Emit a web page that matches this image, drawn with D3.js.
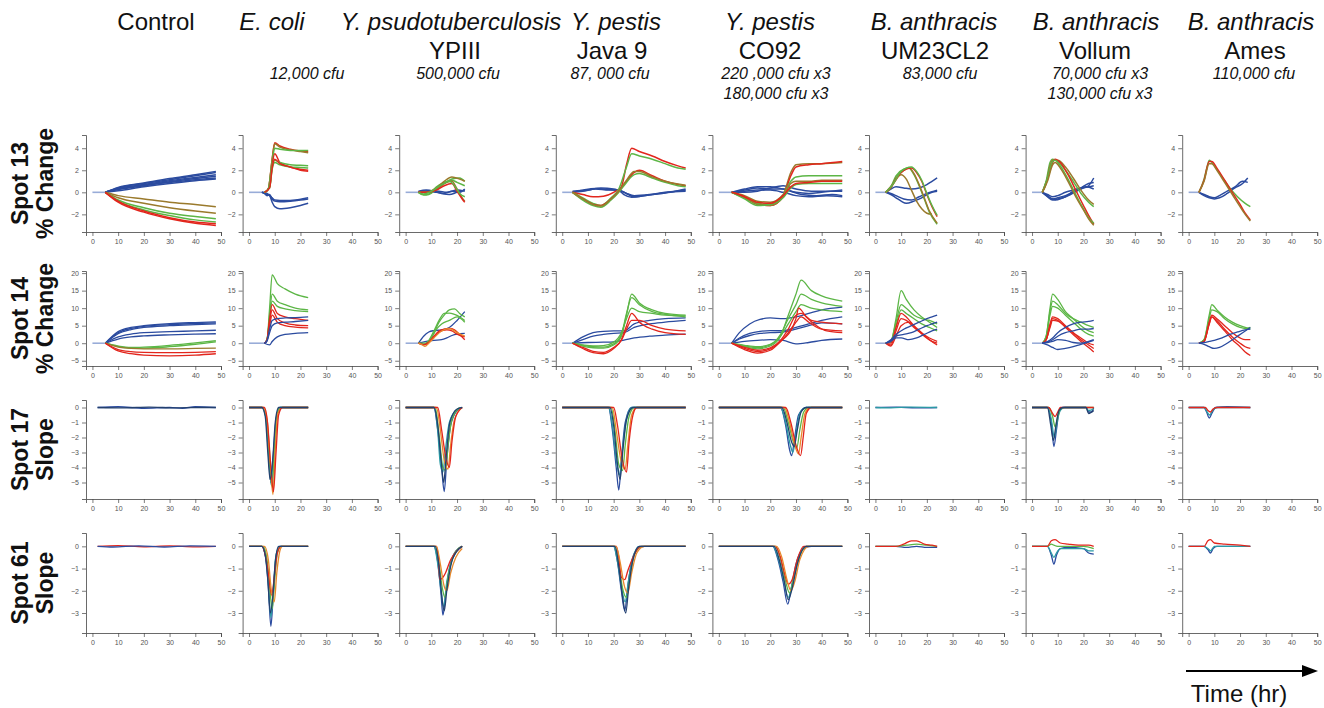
<!DOCTYPE html>
<html>
<head>
<meta charset="utf-8">
<script src="https://cdn.jsdelivr.net/npm/d3@7"></script>
<style>
    body { margin: 0; background: #fff; }
    svg text { font-family: "Liberation Sans", Arial, sans-serif; fill: #111; }
</style>
</head>
<body>
<svg id="chart" width="1324" height="708"></svg>
<script>

//  ---- text of the figure
const strains = ["Control", "E. coli", "Y. psudotuberculosis", "Y. pestis", "Y. pestis", "B. anthracis", "B. anthracis", "B. anthracis"];
const strainItalic = [false, true, true, true, true, true, true, true];
const subStrains = ["", "", "YPIII", "Java 9", "CO92", "UM23CL2", "Vollum", "Ames"];
const doses = ["", "12,000 cfu", "500,000 cfu", "87, 000 cfu", "220 ,000 cfu x3", "83,000 cfu", "70,000 cfu x3", "110,000 cfu"];
const doses2 = ["", "", "", "", "180,000 cfu x3", "", "130,000 cfu x3", ""];
const rowNames = [["Spot 13", "% Change"], ["Spot 14", "% Change"], ["Spot 17", "Slope"], ["Spot 61", "Slope"]];
const xTickValues = [0, 10, 20, 30, 40, 50];
const yTickValues = [[4, 2, 0, -2], [20, 15, 10, 5, 0, -5], [0, -1, -2, -3, -4, -5], [0, -1, -2, -3]];

//  ---- curves: [colour key, [t, v, t, v, ...]]   (t in hours)

//  Spot 13, % change
const s13Control = [
    ['l', [0, 0, 5, 0]],
    ['b', [5, 0, 10, .25, 20, .6, 30, .95, 40, 1.25, 48, 1.45]],
    ['b', [5, 0, 10, .4, 20, .8, 30, 1.15, 40, 1.5, 48, 1.8]],
    ['b', [5, 0, 10, .15, 20, .5, 30, .8, 40, 1.05, 48, 1.2]],
    ['b', [5, 0, 10, .35, 20, .7, 30, 1.05, 40, 1.35, 48, 1.6]],
    ['b', [5, 0, 10, .3, 20, .65, 30, .9, 40, 1.15, 48, 1.3]],
    ['b', [5, 0, 10, .45, 20, .85, 30, 1.25, 40, 1.6, 48, 1.9]],
    ['o', [5, 0, 10, -.3, 20, -.6, 30, -.9, 40, -1.1, 48, -1.3]],
    ['o', [5, 0, 10, -.5, 20, -1.0, 30, -1.4, 40, -1.7, 48, -1.9]],
    ['g', [5, 0, 10, -.7, 20, -1.4, 30, -1.9, 40, -2.2, 48, -2.4]],
    ['g', [5, 0, 10, -.8, 20, -1.6, 30, -2.1, 40, -2.5, 48, -2.7]],
    ['r', [5, 0, 10, -.9, 20, -1.8, 30, -2.4, 40, -2.8, 48, -3.0]],
    ['r', [5, 0, 10, -.8, 20, -1.7, 30, -2.3, 40, -2.7, 48, -2.85]]
];
const s13Ecoli = [
    ['l', [0, 0, 6, 0]],
    ['b', [5, 0, 6, -.1, 7, -.3, 8, -.2, 9, -.6, 10, -.8, 12, -.85, 16, -.8, 20, -.7, 23, -.6]],
    ['b', [5, 0, 7, -.2, 8, -.3, 9, -.9, 10, -1.3, 12, -1.5, 16, -1.4, 20, -1.2, 23, -1.0]],
    ['b', [5, 0, 7, -.1, 9, -.5, 10, -.7, 14, -.75, 18, -.7, 23, -.5]],
    ['r', [6, 0, 7.5, .3, 9, 3.0, 10, 4.5, 12, 4.2, 16, 3.9, 20, 3.75, 23, 3.7]],
    ['o', [6, 0, 7.5, .3, 9, 3.0, 10, 4.4, 12, 4.1, 16, 3.85, 20, 3.7, 23, 3.6]],
    ['g', [6, 0, 7.5, .3, 9, 2.8, 10, 4.0, 12, 3.9, 16, 3.8, 20, 3.8, 23, 3.8]],
    ['r', [6, 0, 8, .5, 9, 2.5, 10, 3.5, 12, 2.7, 16, 2.3, 20, 2.1, 23, 2.0]],
    ['g', [6, 0, 8, .5, 9, 2.3, 10, 2.9, 12, 2.7, 16, 2.5, 20, 2.45, 23, 2.4]],
    ['g', [6, 0, 8, .4, 9, 2.1, 10, 2.7, 12, 2.5, 16, 2.3, 20, 2.25, 23, 2.2]],
    ['r', [6, 0, 8, .4, 9, 2.2, 10, 3.0, 12, 2.6, 16, 2.3, 20, 2.0, 23, 1.9]]
];
const s13Ypseudo = [
    ['l', [0, 0, 5, 0]],
    ['b', [5, 0, 8, .1, 12, 0, 15, -.1, 18, .1, 21, 0, 23, .3]],
    ['b', [5, .1, 8, .2, 11, .1, 14, -.1, 17, -.2, 20, 0, 23, .2]],
    ['b', [5, 0, 9, .15, 13, .1, 16, 0, 20, .2, 23, .1]],
    ['g', [5, 0, 7, -.2, 9, -.15, 12, .5, 15, .9, 18, 1.1, 20, .9, 23, .6]],
    ['g', [5, 0, 7, -.25, 9, -.2, 12, .3, 15, .8, 18, 1.2, 21, 1.3, 23, 1.0]],
    ['o', [5, 0, 8, 0, 12, .4, 15, 1.0, 18, 1.4, 21, 1.2, 23, 1.0]],
    ['o', [5, 0, 8, 0, 12, .3, 15, .8, 18, 1.0, 20, .3, 22, -.5, 23, -.8]],
    ['r', [5, 0, 8, 0, 12, .2, 15, .6, 18, .8, 20, .1, 22, -.6, 23, -.9]],
    ['g', [5, 0, 7, -.15, 10, .1, 14, .7, 17, 1.0, 19, .6, 21, -.1, 23, -.4]]
];
const s13Java = [
    ['l', [0, 0, 4, 0]],
    ['b', [4, 0, 8, .2, 13, .35, 18, .25, 22, .15, 24, -.2, 27, -.45, 32, -.3, 38, -.1, 44, .1, 48, .2]],
    ['b', [4, 0, 8, .1, 13, .3, 18, .2, 22, .2, 25, -.1, 28, -.3, 34, -.2, 40, 0, 48, .1]],
    ['b', [4, .1, 10, .2, 15, .4, 20, .3, 24, 0, 28, -.4, 35, -.2, 42, 0, 48, .3]],
    ['r', [4, 0, 8, -.2, 12, -.4, 16, -.35, 20, 0, 23, .5, 25, 2.5, 27, 4.0, 30, 3.7, 35, 3.3, 40, 2.8, 45, 2.4, 48, 2.2]],
    ['g', [4, 0, 8, -.5, 12, -1.0, 15, -1.2, 19, -.5, 22, .3, 25, 2.3, 27, 3.5, 30, 3.3, 35, 3.0, 40, 2.6, 45, 2.2, 48, 2.1]],
    ['r', [4, 0, 8, -.6, 12, -1.1, 15, -1.2, 19, -.6, 22, .1, 25, 1.0, 28, 1.8, 30, 2.0, 35, 1.5, 40, 1.0, 45, .7, 48, .6]],
    ['g', [4, 0, 8, -.7, 12, -1.2, 15, -1.35, 19, -.7, 22, 0, 25, .9, 28, 1.6, 30, 1.7, 35, 1.3, 40, .9, 45, .6, 48, .5]],
    ['o', [4, 0, 8, -.6, 12, -1.1, 15, -1.25, 19, -.6, 22, .1, 25, 1.1, 28, 1.9, 30, 1.9, 35, 1.4, 40, 1.0, 45, .75, 48, .65]]
];
const s13CO92 = [
    ['l', [0, 0, 5, 0]],
    ['b', [5, 0, 10, .2, 15, .4, 20, .3, 25, .3, 28, .1, 32, -.2, 38, -.3, 44, -.2, 48, -.3]],
    ['b', [5, 0, 10, .3, 15, .5, 20, .5, 25, .3, 30, 0, 35, -.1, 40, 0, 48, .2]],
    ['b', [5, 0, 10, .1, 15, .2, 20, .2, 25, 0, 30, -.3, 35, -.4, 42, -.3, 48, -.4]],
    ['b', [5, 0, 10, 0, 15, .1, 20, .4, 25, .6, 30, .3, 36, .1, 42, .1, 48, .1]],
    ['o', [5, 0, 10, -.3, 15, -.8, 20, -.9, 25, -.2, 28, 1.8, 30, 2.5, 35, 2.6, 40, 2.6, 48, 2.7]],
    ['r', [5, 0, 10, -.4, 15, -1.0, 20, -1.2, 25, -.4, 28, 1.5, 30, 2.3, 35, 2.5, 40, 2.6, 48, 2.8]],
    ['g', [5, 0, 10, -.5, 15, -1.0, 20, -1.1, 25, -.3, 28, 1.0, 30, 1.4, 35, 1.5, 40, 1.5, 48, 1.5]],
    ['o', [5, 0, 10, -.5, 15, -1.1, 20, -1.2, 25, -.4, 28, .8, 30, 1.0, 35, 1.0, 40, 1.1, 48, 1.1]],
    ['g', [5, 0, 10, -.6, 15, -1.2, 20, -1.1, 25, -.5, 28, .4, 30, .7, 35, .8, 40, .8, 48, .8]],
    ['r', [5, 0, 10, -.4, 15, -.9, 20, -1.0, 25, -.3, 28, .5, 30, .8, 35, .9, 40, 1.0, 48, 1.0]]
];
const s13UM23 = [
    ['l', [0, 0, 4, 0]],
    ['b', [4, 0, 6, .3, 8, .5, 11, .4, 14, .3, 17, .4, 20, .7, 22, 1.0, 24, 1.3]],
    ['b', [4, 0, 6, -.2, 8, -.5, 10, -.8, 12, -1.0, 15, -.8, 18, -.5, 20, -.2, 22, 0, 24, .1]],
    ['b', [4, 0, 6, -.1, 8, -.3, 11, -.6, 14, -.7, 17, -.4, 20, -.1, 24, .2]],
    ['o', [4, 0, 6, .4, 8, 1.2, 10, 1.6, 12, 1.2, 14, .2, 16, -.8, 18, -1.5, 20, -1.9, 22, -2.0]],
    ['g', [4, 0, 6, .5, 8, 1.5, 11, 2.1, 13, 2.2, 15, 1.6, 17, .6, 19, -.6, 21, -1.8, 24, -2.9]],
    ['o', [4, 0, 6, .4, 8, 1.3, 11, 2.0, 13, 2.2, 15, 1.7, 17, .7, 19, -.5, 21, -1.7, 24, -2.8]],
    ['r', [4, 0, 7, .8, 10, 1.8, 12, 2.1, 14, 2.2, 16, 1.8, 18, 1.0, 20, -.2, 22, -1.3, 24, -2.2]],
    ['g', [4, 0, 7, .8, 10, 1.9, 12, 2.2, 14, 2.3, 16, 1.9, 18, 1.1, 20, -.1, 22, -1.2, 24, -2.1]]
];
const s13Vollum = [
    ['l', [0, 0, 4, 0]],
    ['b', [4, 0, 6, -.3, 8, -.6, 10, -.5, 13, -.3, 16, 0, 19, .3, 22, .6, 24, 1.3]],
    ['b', [4, 0, 6, -.4, 8, -.7, 10, -.6, 13, -.4, 16, .1, 19, .4, 22, .8, 24, .9]],
    ['b', [4, 0, 6, -.2, 8, -.4, 10, -.3, 13, 0, 16, .2, 19, .4, 22, .5, 24, .6]],
    ['b', [4, 0, 7, -.5, 9, -.7, 12, -.5, 15, -.2, 18, .2, 21, .5, 24, .3]],
    ['g', [4, 0, 5.5, 1.0, 7, 2.7, 8, 3.0, 10, 2.8, 13, 2.0, 16, 1.0, 19, -.1, 22, -.9, 24, -1.3]],
    ['o', [4, 0, 5.5, .8, 7, 2.4, 8, 2.9, 10, 2.9, 13, 2.3, 16, 1.3, 19, .2, 22, -.7, 24, -1.1]],
    ['r', [4, 0, 6, 1.2, 8, 2.7, 9, 3.0, 11, 2.7, 14, 1.6, 17, .2, 20, -1.2, 22, -2.1, 24, -2.9]],
    ['g', [4, 0, 6, 1.3, 8, 2.8, 9, 2.9, 11, 2.4, 14, 1.2, 17, -.2, 20, -1.5, 22, -2.3, 24, -2.8]],
    ['o', [4, 0, 6, 1.0, 8, 2.5, 9, 2.7, 11, 2.2, 14, 1.0, 17, -.4, 20, -1.6, 22, -2.4, 24, -3.0]]
];
const s13Ames = [
    ['l', [0, 0, 4, 0]],
    ['b', [4, 0, 6, -.3, 8, -.5, 10, -.6, 12, -.5, 15, -.1, 18, .4, 21, .8, 23, 1.3]],
    ['b', [4, 0, 6, -.2, 8, -.4, 10, -.5, 12, -.3, 15, .1, 18, .5, 21, 1.0, 23, .9]],
    ['g', [4, 0, 6, 1.2, 7.5, 2.6, 8, 2.9, 10, 2.4, 13, 1.4, 16, .4, 19, -.4, 22, -1.0, 24, -1.3]],
    ['r', [4, 0, 6, 1.1, 8, 2.8, 9, 2.8, 11, 2.2, 14, 1.1, 17, 0, 20, -1.1, 22, -1.9, 24, -2.5]],
    ['o', [4, 0, 6, 1.0, 8, 2.6, 9, 2.6, 11, 2.0, 14, .9, 17, -.2, 20, -1.3, 22, -2.0, 24, -2.6]]
];

//  Spot 14, % change
const s14Control = [
    ['l', [0, 0, 5, 0]],
    ['b', [5, 0, 10, 3.0, 15, 4.2, 20, 4.8, 30, 5.3, 40, 5.6, 48, 5.8]],
    ['b', [5, 0, 10, 3.3, 15, 4.5, 20, 5.0, 30, 5.6, 40, 5.9, 48, 6.1]],
    ['b', [5, 0, 10, 2.7, 15, 3.9, 20, 4.5, 30, 5.0, 40, 5.3, 48, 5.5]],
    ['b', [5, 0, 10, 1.8, 15, 2.6, 20, 3.0, 30, 3.3, 40, 3.5, 48, 3.7]],
    ['b', [5, 0, 10, 1.2, 15, 1.8, 20, 2.1, 30, 2.4, 40, 2.6, 48, 2.7]],
    ['g', [5, 0, 10, -.9, 15, -1.4, 20, -1.4, 30, -1.0, 40, -.3, 48, .4]],
    ['g', [5, 0, 10, -.8, 15, -1.2, 20, -1.1, 30, -.6, 40, .1, 48, .7]],
    ['o', [5, 0, 10, -1.1, 15, -1.5, 20, -1.6, 30, -1.6, 40, -1.5, 48, -1.4]],
    ['r', [5, 0, 10, -2.2, 15, -3.0, 20, -3.4, 30, -3.6, 40, -3.4, 48, -3.0]],
    ['r', [5, 0, 10, -1.8, 15, -2.4, 20, -2.6, 30, -2.7, 40, -2.6, 48, -2.4]]
];
const s14Ecoli = [
    ['l', [0, 0, 6, 0]],
    ['g', [6, 0, 7, 1, 8, 10, 9, 19.5, 11, 17, 14, 15.5, 18, 14, 23, 13]],
    ['g', [6, 0, 7, 1, 8, 8, 9, 14, 11, 12, 14, 11, 18, 10, 23, 9.5]],
    ['g', [6, 0, 7, 1, 8, 7, 9, 12, 11, 10.5, 14, 9.8, 18, 9.3, 23, 9]],
    ['r', [6, 0, 7, 1, 8, 7, 9, 11, 11, 8.5, 14, 7.5, 18, 7, 23, 6.5]],
    ['r', [6, 0, 7, 1, 8, 6, 9, 9.5, 11, 7, 14, 5.8, 18, 5.2, 23, 5]],
    ['r', [6, 0, 7, .8, 8, 5, 9, 8, 11, 6, 14, 5, 18, 4.6, 23, 4.4]],
    ['b', [6, 0, 7, .8, 8, 4, 9, 6.5, 11, 7, 14, 7.2, 18, 7.3, 23, 7.5]],
    ['b', [6, 0, 7, .6, 8, 3, 9, 5, 11, 5.8, 14, 6, 18, 6.2, 23, 6.5]],
    ['b', [6, 0, 8, -.5, 9, .5, 11, 1.8, 14, 2.5, 18, 2.8, 23, 3.0]]
];
const s14Ypseudo = [
    ['l', [0, 0, 5, 0]],
    ['b', [5, 0, 7, 2, 9, 3.2, 11, 3.6, 14, 3.8, 17, 4.5, 20, 6.5, 23, 9]],
    ['b', [5, 0, 8, .5, 11, .8, 14, 1.0, 16, 1.5, 18, 2.2, 20, 2.6, 23, 2.8]],
    ['g', [5, 0, 7, -.4, 9, .5, 11, 3, 13, 6, 15, 8, 17, 9.5, 19, 9.8, 21, 8.5, 23, 7.5]],
    ['g', [5, 0, 7, -.3, 9, .8, 11, 3.5, 13, 6.5, 15, 8.5, 17, 8.6, 19, 8.2, 21, 7.5, 23, 6.5]],
    ['g', [5, 0, 8, 0, 10, 1.5, 12, 4, 14, 5.5, 17, 6.5, 20, 7.5, 23, 6]],
    ['r', [5, 0, 7, -.5, 9, .2, 11, 2, 13, 3.5, 15, 4.0, 17, 4.2, 19, 3.8, 21, 2.5, 23, 1.0]],
    ['r', [5, 0, 7, -.4, 9, .3, 11, 1.8, 13, 3.2, 16, 3.8, 18, 3.5, 20, 2.6, 23, 1.8]],
    ['y', [5, 0, 6.5, -.5, 7.5, -.9, 9, 0, 11, 1.5, 14, 3.5, 17, 4.2, 20, 3, 23, 2]]
];
const s14Java = [
    ['l', [0, 0, 4, 0]],
    ['b', [4, 0, 8, 1.8, 12, 3.0, 16, 3.4, 20, 3.5, 24, 3.5, 28, 5.5, 34, 6.5, 40, 7.0, 48, 7.2]],
    ['b', [4, 0, 10, .2, 16, .3, 20, .4, 24, .9, 28, 1.5, 34, 2.0, 40, 2.3, 48, 2.6]],
    ['b', [4, 0, 8, 1.0, 12, 2.0, 16, 2.5, 20, 2.8, 24, 3.0, 28, 4.5, 34, 5.5, 40, 6.0, 48, 6.5]],
    ['g', [4, 0, 8, -.8, 12, -1.3, 16, -1.4, 20, -.5, 23, 2.0, 25, 8, 27, 14, 30, 11.5, 35, 9.5, 40, 8.5, 48, 8]],
    ['g', [4, 0, 8, -.6, 12, -1.0, 16, -1.1, 20, -.2, 23, 2.5, 25, 8.5, 27, 13, 30, 11, 35, 9, 40, 8.2, 48, 7.5]],
    ['g', [4, 0, 8, -.5, 12, -.8, 16, -.7, 20, .3, 23, 3.0, 25, 7, 27, 10, 30, 9, 35, 8.5, 40, 8, 48, 7.8]],
    ['r', [4, 0, 8, -1.5, 12, -2.7, 16, -3.0, 20, -1.5, 23, 1.0, 25, 5, 27, 8.5, 30, 6, 35, 4, 40, 3, 48, 2.5]],
    ['r', [4, 0, 8, -1.2, 12, -2.3, 16, -2.6, 20, -1.2, 23, .8, 25, 4, 27, 6.5, 30, 6.5, 35, 5, 40, 4, 48, 3.5]]
];
const s14CO92 = [
    ['l', [0, 0, 5, 0]],
    ['b', [5, 0, 8, 3, 12, 5.5, 16, 6.8, 20, 7.2, 25, 7.0, 30, 7.5, 35, 8.5, 40, 9.5, 48, 10.3]],
    ['b', [5, 0, 8, 1.5, 12, 2.8, 16, 3.4, 20, 3.6, 25, 3.6, 30, 4.5, 35, 5.5, 40, 6.5, 48, 7.5]],
    ['b', [5, 0, 8, 1.2, 12, 2.2, 16, 2.8, 20, 3.0, 25, 3.2, 30, 4.0, 35, 5.0, 40, 5.8, 48, 5.5]],
    ['b', [5, 0, 10, .5, 15, .8, 20, 1.0, 25, .8, 30, -.2, 35, .2, 40, .8, 48, 1.2]],
    ['g', [5, 0, 10, -1.0, 15, -1.6, 20, -.8, 24, 2, 27, 8, 30, 14, 32, 18, 36, 15, 40, 13.5, 48, 12]],
    ['g', [5, 0, 10, -.8, 15, -1.3, 20, -.5, 24, 2.5, 27, 7, 30, 11, 32, 14, 36, 12.5, 40, 11.5, 48, 10.5]],
    ['g', [5, 0, 10, -.6, 15, -1.0, 20, -.3, 24, 2, 27, 5.5, 30, 9, 32, 11, 36, 10, 40, 9.5, 48, 9]],
    ['r', [5, 0, 10, -1.8, 15, -2.8, 20, -2.0, 24, .5, 27, 3, 30, 7, 31, 10, 34, 7.5, 38, 5, 42, 3.5, 48, 3]],
    ['r', [5, 0, 10, -1.5, 15, -2.4, 20, -1.6, 24, .5, 27, 2.5, 30, 6, 32, 7.5, 35, 6, 40, 4, 48, 3.5]],
    ['r', [5, 0, 10, -1.2, 15, -2.0, 20, -1.3, 24, .8, 27, 4, 30, 8, 32, 8.5, 36, 6.5, 40, 6, 48, 5.5]]
];
const s14UM23 = [
    ['l', [0, 0, 4, 0]],
    ['g', [4, 0, 6, .5, 8, 7, 10, 15, 12, 12.5, 15, 9.5, 18, 7.5, 21, 6, 24, 4.5]],
    ['g', [4, 0, 6, .5, 8, 6, 10, 11, 12, 10, 15, 8, 18, 7, 21, 6.5, 24, 5.5]],
    ['g', [4, 0, 6, .3, 8, 5, 10, 9.5, 12, 8.5, 15, 7, 18, 5.5, 21, 4.5, 24, 3.5]],
    ['r', [4, 0, 6, 0, 8, 4.5, 10, 8.5, 12, 7.5, 15, 5, 18, 3, 21, 1, 24, -.5]],
    ['r', [4, 0, 6, -.5, 8, 3.5, 10, 7, 12, 6.5, 15, 4.5, 18, 2.8, 21, 1.5, 24, .5]],
    ['r', [4, 0, 6, -.8, 8, 2, 10, 5, 13, 6, 16, 4, 19, 2, 22, .5, 24, 0]],
    ['b', [4, 0, 6, 1, 8, 2.5, 11, 4, 14, 5, 17, 6, 20, 7, 22, 7.5, 24, 8]],
    ['b', [4, 0, 6, .8, 8, 2, 11, 2.5, 14, 3, 17, 4, 20, 5, 22, 5.5, 24, 6]],
    ['b', [4, 0, 6, .5, 8, 1.5, 10, 1.5, 13, 1.0, 16, 1.5, 19, 2.5, 22, 3.5, 24, 4]]
];
const s14Vollum = [
    ['l', [0, 0, 4, 0]],
    ['g', [4, 0, 5.5, 2, 7, 10, 8, 14, 10, 12.5, 13, 9, 16, 7, 19, 5, 22, 3.5, 24, 3]],
    ['g', [4, 0, 5.5, 2, 7, 9, 8, 12, 10, 11, 13, 8.5, 16, 7, 19, 6, 22, 5, 24, 4.5]],
    ['g', [4, 0, 5.5, 1.5, 7, 8, 8, 10.5, 10, 10, 13, 8, 16, 6, 19, 4, 22, 2.5, 24, 2]],
    ['r', [4, 0, 5.5, 1, 7, 5.5, 8, 7.5, 10, 7, 13, 5, 16, 3, 19, 1, 22, -.5, 24, -1.5]],
    ['r', [4, 0, 5.5, 1, 7, 5, 8, 7, 10, 6.5, 13, 4.5, 16, 2.5, 19, .5, 22, -1.2, 24, -2.5]],
    ['r', [4, 0, 5.5, 1, 7, 4.5, 8, 6.5, 10, 6.3, 13, 4.8, 16, 3, 19, 1.5, 22, 0, 24, -.5]],
    ['b', [4, 0, 6, .5, 8, 1.5, 10, 3, 13, 4.5, 16, 5.5, 19, 6, 22, 6.2, 24, 6.5]],
    ['b', [4, 0, 6, .3, 8, 1, 10, 2, 13, 3, 16, 3.5, 19, 4, 22, 4, 24, 4.2]],
    ['b', [4, 0, 6, .2, 8, .5, 10, 1.0, 13, .8, 16, .2, 19, 0, 22, .5, 24, 1.0]],
    ['b', [4, 0, 6, -.5, 8, -1.2, 10, -1.8, 13, -1.5, 16, -1.0, 19, -.3, 22, .3, 24, .8]]
];
const s14Ames = [
    ['l', [0, 0, 4, 0]],
    ['g', [4, 0, 6, 1, 8, 8, 9, 11, 11, 9.5, 14, 7.5, 17, 6, 20, 5, 22, 4.5, 24, 4]],
    ['g', [4, 0, 6, 1, 8, 7, 9, 9.5, 11, 9, 14, 7, 17, 5.5, 20, 4.5, 22, 4.2, 24, 4.5]],
    ['r', [4, 0, 6, .5, 8, 6, 9, 8, 11, 7, 14, 5, 17, 3, 20, 1.5, 22, 1.0, 24, 1.0]],
    ['r', [4, 0, 6, .5, 8, 5.5, 9, 7.5, 11, 6.5, 14, 4, 17, 1.8, 20, 0, 22, -1.0, 24, -1.5]],
    ['r', [4, 0, 6, .5, 8, 5.5, 9, 7.5, 11, 6, 14, 3.5, 17, 1, 20, -1, 22, -2.5, 24, -3.5]],
    ['b', [4, 0, 6, -.3, 8, -1, 10, -1.5, 12, -1.2, 15, 0, 18, 1.5, 21, 3, 24, 4.5]],
    ['b', [4, 0, 6, .2, 8, .5, 10, .8, 13, 1.5, 16, 2.5, 19, 3.2, 22, 3.8, 24, 4]]
];

//  Spot 17, slope
const s17Control = [
    ['b', [2, 0, 10, .05, 20, -.05, 30, 0, 35, -.05, 40, .05, 48, 0]],
    ['n', [2, 0, 12, -.03, 22, .03, 32, -.03, 42, 0, 48, 0]]
];
const s17Ecoli = [
    ['b', [0, 0, 5, 0, 6.5, -.5, 7.5, -2.5, 8.5, -5.0, 9.5, -3, 10.5, -.8, 12, 0, 23, 0]],
    ['t', [0, 0, 5, 0, 6.5, -.6, 7.5, -3, 8.7, -5.2, 9.7, -3, 10.7, -.6, 12, 0, 23, 0]],
    ['g', [0, 0, 5.5, 0, 7, -1, 8, -3.5, 9, -5.3, 10, -2.5, 11, -.4, 12.5, 0, 23, 0]],
    ['y', [0, 0, 5.5, 0, 7, -.8, 8.2, -3.5, 9.3, -5.8, 10.2, -2.8, 11.2, -.4, 13, 0, 23, 0]],
    ['r', [0, 0, 6, 0, 7.2, -1, 8.5, -4, 9.5, -5.6, 10.5, -3, 11.5, -.5, 13, 0, 23, 0]],
    ['n', [0, 0, 5, 0, 6.3, -.6, 7.3, -3, 8.2, -4.8, 9.2, -3.5, 10.2, -1, 11.5, 0, 23, 0]]
];
const s17Ypseudo = [
    ['b', [0, 0, 11, 0, 12.5, -1.5, 14, -4, 15, -5.6, 16, -3.5, 17.5, -1.2, 20, -.2, 22, 0]],
    ['t', [0, 0, 11, 0, 12.5, -1.6, 13.5, -3.8, 14.5, -4.3, 15.5, -2.8, 17, -1, 19.5, -.2, 22, 0]],
    ['g', [0, 0, 11.5, 0, 13, -1.8, 14.5, -4.0, 15.5, -4.2, 16.5, -2.5, 18, -.8, 21, 0]],
    ['y', [0, 0, 12, 0, 13.5, -1.5, 15, -3.5, 16.5, -4.1, 17.5, -2.5, 19, -.8, 22, 0]],
    ['r', [0, 0, 12.5, 0, 14, -1.5, 15.5, -3.2, 17, -4.0, 18, -2.3, 19.5, -.6, 22, 0]],
    ['n', [0, 0, 11, 0, 12.5, -1.2, 13.8, -3.5, 14.8, -5.0, 15.8, -3.2, 17.2, -1, 20, -.1, 22, 0]]
];
const s17Java = [
    ['b', [0, 0, 18, 0, 19.5, -1.5, 21, -4, 22, -5.5, 23, -3.5, 24.5, -1, 27, 0, 48, 0]],
    ['t', [0, 0, 18, 0, 19.5, -1.2, 21, -3.5, 22.3, -4.5, 23.3, -3, 25, -.8, 27, 0, 48, 0]],
    ['g', [0, 0, 19, 0, 20.5, -1.5, 22, -3.8, 23.5, -4.2, 24.5, -2.5, 26, -.6, 28, 0, 48, 0]],
    ['y', [0, 0, 19.5, 0, 21, -1.5, 22.8, -3.5, 24.5, -4.1, 25.5, -2.5, 27, -.5, 29, 0, 48, 0]],
    ['r', [0, 0, 20, 0, 21.5, -1.2, 23.2, -3.3, 25, -4.3, 26, -2.3, 27.5, -.5, 29, 0, 48, 0]],
    ['n', [0, 0, 18.5, 0, 20, -1.2, 21.5, -3.8, 22.5, -4.8, 23.5, -3, 25, -.8, 27.5, 0, 48, 0]]
];
const s17CO92 = [
    ['b', [0, 0, 24, 0, 26, -1.2, 27.5, -2.8, 28.3, -3.2, 29.5, -2, 31, -.5, 34, 0, 48, 0]],
    ['t', [0, 0, 24, 0, 26, -1.0, 27.8, -2.5, 28.8, -3.0, 30, -1.8, 31.5, -.4, 34, 0, 48, 0]],
    ['g', [0, 0, 25, 0, 27, -1.0, 29, -2.3, 30.3, -2.7, 31.5, -1.5, 33, -.3, 35, 0, 48, 0]],
    ['y', [0, 0, 25.5, 0, 27.5, -1.0, 29.5, -2.5, 31, -3.1, 32, -2, 33.5, -.4, 35.5, 0, 48, 0]],
    ['r', [0, 0, 26, 0, 28, -1.0, 30, -2.5, 31.8, -3.2, 32.8, -2, 34, -.4, 36, 0, 48, 0]],
    ['n', [0, 0, 24.5, 0, 26.5, -1.0, 28.3, -2.3, 29.3, -2.6, 30.5, -1.5, 32, -.3, 34, 0, 48, 0]]
];
const s17UM23 = [
    ['b', [0, 0, 8, .03, 16, -.03, 24, 0]],
    ['t', [0, 0, 6, -.02, 14, .03, 24, 0]]
];
const s17Vollum = [
    ['b', [0, 0, 6, 0, 7.5, -1, 8.5, -2.6, 9.5, -1.5, 10.5, -.3, 12, 0, 21, 0, 22, -.3, 23, -.3, 24, 0]],
    ['t', [0, 0, 6, 0, 7.5, -.8, 8.7, -2.0, 9.7, -1.0, 11, -.2, 12.5, 0, 21, 0, 22, -.2, 24, -.1]],
    ['g', [0, 0, 6.5, 0, 8, -.6, 9, -1.3, 10, -.6, 11, -.1, 13, 0, 24, 0]],
    ['r', [0, 0, 6.5, 0, 8, -.4, 9, -.6, 10, -.3, 11, 0, 24, 0]],
    ['n', [0, 0, 6, 0, 7.3, -1.2, 8.3, -2.2, 9.3, -1.2, 10.5, -.2, 12, 0, 21, 0, 22, -.4, 24, -.2]]
];
const s17Ames = [
    ['b', [0, 0, 6, 0, 7, -.3, 8, -.7, 9, -.4, 10.5, 0, 15, .05, 24, 0]],
    ['t', [0, 0, 6, 0, 7.2, -.3, 8.2, -.5, 9.3, -.2, 11, 0, 24, 0]],
    ['r', [0, 0, 6.5, 0, 7.5, -.2, 8.5, -.3, 9.5, -.1, 11, 0, 24, 0]]
];

//  Spot 61, slope
const s61Control = [
    ['r', [2, 0, 10, .03, 20, -.02, 30, .02, 40, -.02, 48, 0]],
    ['b', [2, 0, 8, -.03, 18, .02, 28, -.03, 38, .02, 48, 0]]
];
const s61Ecoli = [
    ['b', [0, 0, 5, 0, 6.5, -.5, 7.5, -1.8, 8.5, -3.6, 9.5, -2.0, 10.5, -.5, 12, 0, 23, 0]],
    ['t', [0, 0, 5, 0, 6.5, -.5, 7.5, -1.6, 8.5, -3.2, 9.5, -1.8, 10.5, -.4, 12, 0, 23, 0]],
    ['g', [0, 0, 5.5, 0, 7, -.6, 8, -1.8, 9, -2.8, 10, -1.5, 11, -.3, 12.5, 0, 23, 0]],
    ['r', [0, 0, 5, 0, 6.5, -.5, 7.5, -1.2, 8.8, -2.2, 10, -1.2, 11, -.3, 12.5, 0, 23, 0]],
    ['y', [0, 0, 6, 0, 7.5, -.6, 8.7, -2.0, 9.8, -2.5, 10.8, -1.2, 12, -.2, 13, 0, 23, 0]],
    ['n', [0, 0, 5, 0, 6.3, -.4, 7.3, -1.5, 8.3, -3.0, 9.3, -2.2, 10.3, -.6, 11.5, 0, 23, 0]]
];
const s61Ypseudo = [
    ['b', [0, 0, 11, 0, 12.5, -.7, 13.8, -2.2, 14.5, -3.1, 15.5, -2.2, 17, -1, 19, -.3, 22, 0]],
    ['t', [0, 0, 11, 0, 12.5, -.8, 13.8, -2.0, 14.8, -2.7, 16, -1.6, 17.5, -.8, 20, -.2, 22, 0]],
    ['g', [0, 0, 11.5, 0, 13, -.8, 14.3, -1.9, 15.3, -2.3, 16.5, -1.4, 18, -.6, 20.5, -.1, 22, 0]],
    ['r', [0, 0, 12, 0, 12.7, -.5, 13.3, -1.5, 14.5, -1.4, 15.5, -1.2, 17.5, -.6, 20, -.2, 22, 0]],
    ['y', [0, 0, 12, 0, 13.5, -.8, 15, -1.8, 16, -2.0, 17.5, -1.2, 19.5, -.5, 22, -.1]],
    ['n', [0, 0, 11.5, 0, 13, -.9, 14.2, -2.4, 15, -2.9, 16, -2.0, 17.5, -.9, 20, -.2, 22, 0]]
];
const s61Java = [
    ['b', [0, 0, 20, 0, 21.5, -.7, 23, -2.0, 24.3, -2.9, 25.5, -1.8, 27, -.7, 29.5, -.1, 32, 0, 48, 0]],
    ['t', [0, 0, 20, 0, 21.5, -.7, 23, -1.8, 24.5, -2.5, 25.7, -1.6, 27.2, -.6, 30, 0, 48, 0]],
    ['g', [0, 0, 20.5, 0, 22, -.8, 23.5, -1.9, 25, -2.3, 26.5, -1.3, 28, -.4, 31, 0, 48, 0]],
    ['r', [0, 0, 21, 0, 22, -.5, 23, -1.4, 24.3, -1.5, 25.5, -1.1, 27.5, -.5, 30.5, 0, 48, 0]],
    ['y', [0, 0, 21, 0, 22.5, -.7, 24.2, -1.8, 25.5, -2.1, 27, -1.2, 29, -.3, 32, 0, 48, 0]],
    ['n', [0, 0, 20.5, 0, 22, -.9, 23.5, -2.3, 24.7, -3.0, 25.8, -1.9, 27.3, -.7, 30, 0, 48, 0]]
];
const s61CO92 = [
    ['b', [0, 0, 21, 0, 23, -.6, 25, -1.6, 26.8, -2.6, 28, -2, 30, -.8, 33, -.1, 36, 0, 48, 0]],
    ['t', [0, 0, 21, 0, 23, -.5, 25, -1.4, 27, -2.3, 28.5, -1.7, 30.5, -.7, 34, 0, 48, 0]],
    ['g', [0, 0, 22, 0, 24, -.6, 26, -1.6, 27.5, -2.1, 29, -1.5, 31, -.6, 34, 0, 48, 0]],
    ['r', [0, 0, 22, 0, 24, -.5, 25.5, -1.2, 27, -1.7, 28.5, -1.5, 30.5, -.6, 33, 0, 48, 0]],
    ['y', [0, 0, 22.5, 0, 24.5, -.5, 26.5, -1.5, 28, -2.0, 29.5, -1.6, 31.5, -.6, 35, 0, 48, 0]],
    ['n', [0, 0, 21.5, 0, 23.5, -.6, 25.5, -1.6, 27, -2.4, 28.5, -1.9, 30.5, -.8, 34, 0, 48, 0]]
];
const s61UM23 = [
    ['b', [0, 0, 8, 0, 12, -.05, 16, 0, 20, -.05, 24, -.05]],
    ['g', [0, 0, 8, 0, 12, .05, 16, .1, 20, .05, 24, 0]],
    ['r', [0, 0, 8, 0, 11, .1, 14, .25, 16, .25, 19, .1, 22, .05, 24, 0]]
];
const s61Vollum = [
    ['b', [0, 0, 6, 0, 7.5, -.4, 8.5, -.8, 9.5, -.4, 11, -.1, 14, -.05, 20, -.1, 22, -.3, 24, -.35]],
    ['t', [0, 0, 6, 0, 7.5, -.3, 8.5, -.5, 9.5, -.3, 11, -.1, 20, -.1, 22, -.2, 24, -.2]],
    ['g', [0, 0, 6, 0, 7.5, .1, 8.5, .05, 10, 0, 20, 0, 24, -.1]],
    ['r', [0, 0, 6, 0, 7.5, .25, 9, .3, 11, .15, 14, .1, 18, .05, 22, .05, 24, 0]]
];
const s61Ames = [
    ['b', [0, 0, 6, 0, 7.5, -.15, 8.5, -.3, 9.5, -.1, 11, 0, 24, 0]],
    ['t', [0, 0, 6, 0, 7.5, -.1, 8.5, -.2, 10, 0, 24, 0]],
    ['r', [0, 0, 6, 0, 7.5, .25, 8.5, .3, 10, .15, 14, .1, 20, .05, 24, 0]]
];

const spot13 = [s13Control, s13Ecoli, s13Ypseudo, s13Java, s13CO92, s13UM23, s13Vollum, s13Ames];
const spot14 = [s14Control, s14Ecoli, s14Ypseudo, s14Java, s14CO92, s14UM23, s14Vollum, s14Ames];
const spot17 = [s17Control, s17Ecoli, s17Ypseudo, s17Java, s17CO92, s17UM23, s17Vollum, s17Ames];
const spot61 = [s61Control, s61Ecoli, s61Ypseudo, s61Java, s61CO92, s61UM23, s61Vollum, s61Ames];
const allRows = [spot13, spot14, spot17, spot61];

//  ---- layout

const lineColors = {
    b: "#2b4b9f", n: "#23406f", t: "#2a9aa5", g: "#5cb646",
    r: "#e2261d", o: "#9a7a2c", y: "#e8892b", l: "#98acd8"
};

const axisX0 = 86, colStep = 156.6, panelW = 135;
const rowLayout = [
    {top: 135, bottom: 232, domain: [-3.6, 5.2], minor: 1, lw: 1.5},
    {top: 271, bottom: 366, domain: [-6.5, 20.6], minor: 1, lw: 1.3},
    {top: 400, bottom: 499, domain: [-6.1, 0.5], minor: 0.2, lw: 1.3},
    {top: 533, bottom: 633, domain: [-3.9, 0.6], minor: 0.2, lw: 1.3}
];
const headCx = [156, 272, 451, 616, 770, 934, 1096, 1251];
const subCx = [0, 0, 455, 612, 770, 935, 1095, 1255];
const doseCx = [0, 307, 458, 610, 776, 940, 1100, 1254];

const svg = d3.select("#chart");

//  column headings
svg.selectAll("text.head")
    .data(strains)
    .join("text")
    .attr("class", "head")
    .attr("x", (d, i) => headCx[i])
    .attr("y", 30)
    .attr("text-anchor", "middle")
    .attr("font-size", 24)
    .attr("font-style", (d, i) => strainItalic[i] ? "italic" : "normal")
    .text(d => d);

svg.selectAll("text.sub")
    .data(subStrains)
    .join("text")
    .attr("class", "sub")
    .attr("x", (d, i) => subCx[i])
    .attr("y", 59)
    .attr("text-anchor", "middle")
    .attr("font-size", 24)
    .text(d => d);

[doses, doses2].forEach((lines, k) => {
    svg.append("g")
        .selectAll("text")
        .data(lines)
        .join("text")
        .attr("x", (d, i) => doseCx[i])
        .attr("y", 79 + k * 20)
        .attr("text-anchor", "middle")
        .attr("font-size", 16)
        .attr("font-style", "italic")
        .text(d => d);
});

//  row labels
rowNames.forEach((names, r) => {
    const cy = (rowLayout[r].top + rowLayout[r].bottom) / 2;
    names.forEach((name, k) => {
        svg.append("text")
            .attr("transform", `translate(${20 + k * 25},${cy}) rotate(-90)`)
            .attr("text-anchor", "middle")
            .attr("dominant-baseline", "central")
            .attr("font-size", 23)
            .attr("font-weight", "bold")
            .text(name);
    });
});

//  the panels
allRows.forEach((row, r) => {
    const lay = rowLayout[r];
    const y = d3.scaleLinear().domain(lay.domain).range([lay.bottom, lay.top]);

    row.forEach((panel, c) => {
        const ax = axisX0 + c * colStep;
        const x = d3.scaleLinear().domain([-2.5, 50]).range([ax, ax + panelW]);
        const g = svg.append("g").attr("class", "panel");

        //  x axis
        const xg = g.append("g").attr("transform", `translate(0,${lay.bottom})`);
        xg.call(d3.axisBottom(x).tickValues(d3.range(0, 51, 2)).tickSize(2.5).tickFormat(""));
        xg.call(d3.axisBottom(x).tickValues(xTickValues).tickSize(4).tickFormat(d3.format("d")));

        //  y axis
        const [lo, hi] = lay.domain;
        const minorY = d3.range(Math.ceil(lo / lay.minor) * lay.minor, hi + 1e-9, lay.minor);
        const yg = g.append("g").attr("transform", `translate(${ax},0)`);
        yg.call(d3.axisLeft(y).tickValues(minorY).tickSize(2).tickFormat(""));
        yg.call(d3.axisLeft(y).tickValues(yTickValues[r]).tickSize(4).tickFormat(d3.format("d")));

        g.selectAll(".domain").attr("stroke", "#444").attr("stroke-width", 0.8);
        g.selectAll(".tick line").attr("stroke", "#444").attr("stroke-width", 0.7);
        g.selectAll(".tick text").attr("font-size", 7).style("fill", "#555")
            .attr("font-family", "'DejaVu Serif', serif");

        //  curves
        const line = d3.line()
            .x(d => x(d[0]))
            .y(d => y(d[1]))
            .curve(d3.curveMonotoneX);

        g.selectAll("path.curve")
            .data(panel)
            .join("path")
            .attr("class", "curve")
            .attr("fill", "none")
            .attr("stroke", d => lineColors[d[0]])
            .attr("stroke-width", d => d[0] === 'l' ? 1.6 : lay.lw)
            .attr("stroke-linejoin", "round")
            .attr("d", d => line(d3.range(0, d[1].length, 2).map(k => [d[1][k], d[1][k + 1]])));
    });
});

//  time arrow
const arrowY = 671;
svg.append("line")
    .attr("x1", 1186).attr("x2", 1306)
    .attr("y1", arrowY).attr("y2", arrowY)
    .attr("stroke", "#000").attr("stroke-width", 2);
svg.append("path")
    .attr("d", `M1318,${arrowY} L1302,${arrowY - 6} L1302,${arrowY + 6} Z`)
    .attr("fill", "#000");
svg.append("text")
    .attr("x", 1239).attr("y", 702)
    .attr("text-anchor", "middle")
    .attr("font-size", 24)
    .text("Time (hr)");

</script>
</body>
</html>
